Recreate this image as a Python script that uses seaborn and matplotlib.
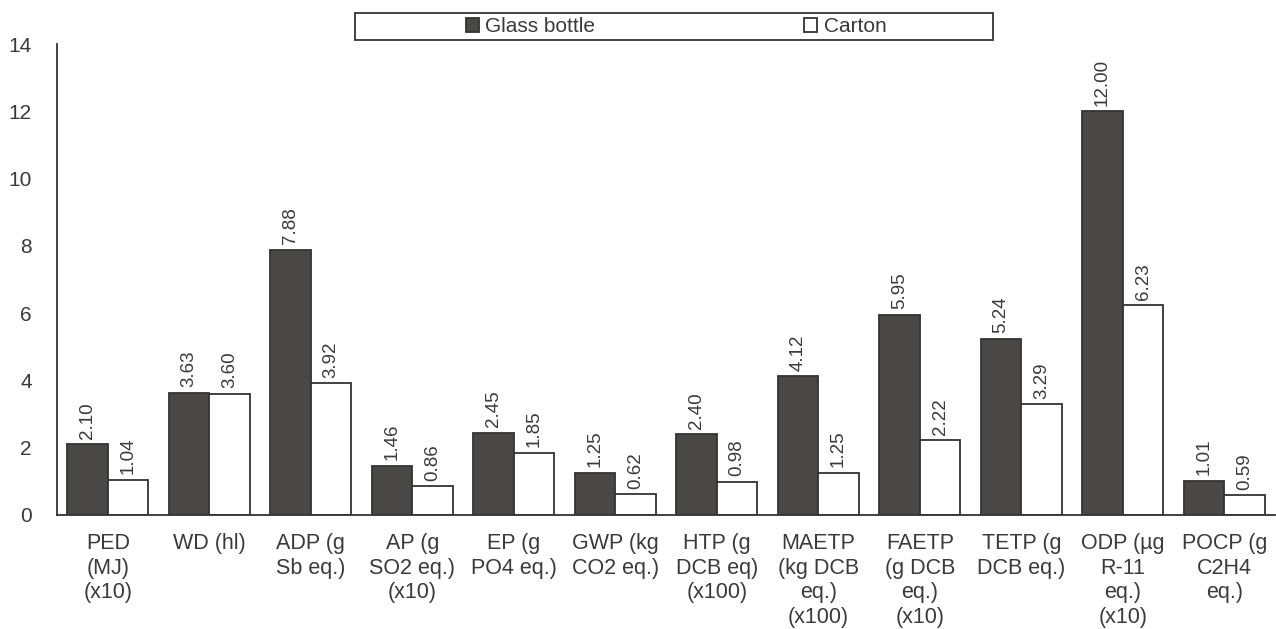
import numpy as np
import pandas as pd
import matplotlib
matplotlib.use("Agg")
import matplotlib.pyplot as plt
from matplotlib.patches import Rectangle
import seaborn as sns

# data
categories = ["PED\n(MJ)\n(x10)", "WD (hl)", "ADP (g\nSb eq.)", "AP (g\nSO2 eq.)\n(x10)",
              "EP (g\nPO4 eq.)", "GWP (kg\nCO2 eq.)", "HTP (g\nDCB eq)\n(x100)",
              "MAETP\n(kg DCB\neq.)\n(x100)", "FAETP\n(g DCB\neq.)\n(x10)", "TETP (g\nDCB eq.)",
              "ODP (µg\nR-11\neq.)\n(x10)", "POCP (g\nC2H4\neq.)"]
glass_bottle = [2.10, 3.63, 7.88, 1.46, 2.45, 1.25, 2.40, 4.12, 5.95, 5.24, 12.00, 1.01]
carton = [1.04, 3.60, 3.92, 0.86, 1.85, 0.62, 0.98, 1.25, 2.22, 3.29, 6.23, 0.59]
series = ["Glass bottle", "Carton"]
y_ticks = [0, 2, 4, 6, 8, 10, 12, 14]

df = pd.DataFrame({
    "category": categories * 2,
    "value": glass_bottle + carton,
    "package": [series[0]] * len(categories) + [series[1]] * len(categories),
})

sns.set_style("white")
plt.rcParams["font.family"] = ["Liberation Sans", "DejaVu Sans"]
text_col = "#3a3a3a"
line_col = "#333333"

fig = plt.figure(figsize=(12.76, 6.29), dpi=100)
ax = fig.add_axes([57 / 1276, 1 - 515 / 629, 1218 / 1276, (515 - 44) / 629])

sns.barplot(data=df, x="category", y="value", hue="package", order=categories,
            hue_order=series, palette=["#4a4846", "#ffffff"], edgecolor=line_col,
            linewidth=1.3, width=0.8, ax=ax)

for cont in ax.containers:
    ax.bar_label(cont, fmt="%.2f", rotation=90, padding=4, fontsize=13.5, color=text_col)

ax.set_xlim(-0.5, len(categories) - 0.5)
ax.set_ylim(0, 14)
ax.set_yticks(y_ticks)
ax.set_xlabel("")
ax.set_ylabel("")

# category boundaries carry the tick marks, labels sit in the middle
ax.set_xticks(np.arange(-0.5, len(categories)), minor=True)
ax.tick_params(axis="x", which="major", length=0, pad=13, labelsize=15.5, labelcolor=text_col)
ax.tick_params(axis="x", which="minor", length=6, width=1.3, color=line_col, direction="out")
ax.tick_params(axis="y", length=6, width=1.3, color=line_col, direction="out",
               labelsize=15, labelcolor=text_col, pad=12)
for lbl in ax.get_xticklabels():
    lbl.set_linespacing(1.22)

sns.despine(ax=ax)
for side in ["left", "bottom"]:
    ax.spines[side].set_color(line_col)
    ax.spines[side].set_linewidth(1.3)

# legend in a wide box above the plot
handles, labels = ax.get_legend_handles_labels()
ax.legend_.remove()
fig.legend(handles, labels, loc="center", bbox_to_anchor=(676 / 1276, 1 - 26.5 / 629),
           ncol=2, frameon=False, fontsize=15, handlelength=0.65, handleheight=0.65,
           handletextpad=0.3, columnspacing=10.0, labelcolor=text_col)
fig.add_artist(Rectangle((355 / 1276, 1 - 40 / 629), 638 / 1276, 27 / 629,
                         transform=fig.transFigure, fill=False, edgecolor=line_col, linewidth=1.3))

fig.savefig("out.png", dpi=100)
